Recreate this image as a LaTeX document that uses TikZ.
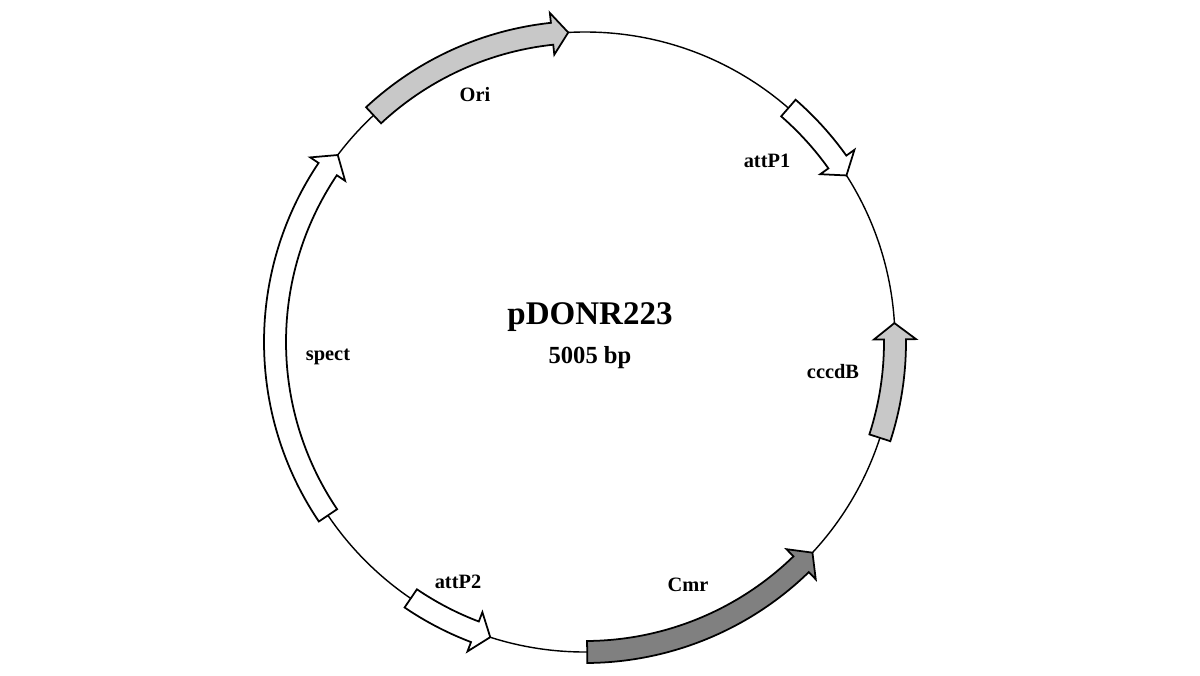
\documentclass[tikz,border=0pt]{standalone}
\usepackage{tikz}
\usepackage{fontspec}
\setmainfont{Liberation Serif}
\usetikzlibrary{}

\definecolor{lightgene}{RGB}{200,200,200}
\definecolor{darkgene}{RGB}{128,128,128}

\tikzset{
	gene/.style={draw=black,line width=1.25pt,line join=miter},
	genelabel/.style={font=\fontsize{14.5}{16}\selectfont\bfseries}
}

\begin{document}
\begin{tikzpicture}
		\useasboundingbox (-14.625,-8.325) rectangle (15.375,8.55);
		
		\draw[line width=1pt] (0,0) circle (7.75);
		
		\node (title) at (0.125,0.625){\fontsize{23.5}{26}\selectfont\bfseries pDONR223};
		\node (size) at (0.125,-0.4){\fontsize{17.5}{20}\selectfont\bfseries 5005 bp};
		
		% Ori
		\draw[gene,fill=lightgene] (133:8.025) arc[start angle=133,end angle=96.1,radius=8.025] -- (96.1:8.275) -- (93.1:7.75) -- (96.1:7.225) -- (96.1:7.475) arc[start angle=96.1,end angle=133,radius=7.475] -- cycle;
		\node[genelabel] (ori) at (-2.75,6.175){Ori};
		
		% attP1
		\draw[gene,fill=white] (49:8.025) arc[start angle=49,end angle=35.5,radius=8.025] -- (35.5:8.275) -- (32.5:7.75) -- (35.5:7.225) -- (35.5:7.475) arc[start angle=35.5,end angle=49,radius=7.475] -- cycle;
		\node[genelabel] (attpone) at (4.55,4.525){attP1};
		
		% cccdB
		\draw[gene,fill=lightgene] (-18:8.025) arc[start angle=-18,end angle=0.5,radius=8.025] -- (0.5:8.275) -- (3.5:7.75) -- (0.5:7.225) -- (0.5:7.475) arc[start angle=0.5,end angle=-18,radius=7.475] -- cycle;
		\node[genelabel] (cccdb) at (6.2,-0.75){cccdB};
		
		% Cmr
		\draw[gene,fill=darkgene] (-89.6:8.025) arc[start angle=-89.6,end angle=-45.8,radius=8.025] -- (-45.8:8.275) -- (-42.8:7.75) -- (-45.8:7.225) -- (-45.8:7.475) arc[start angle=-45.8,end angle=-89.6,radius=7.475] -- cycle;
		\node[genelabel] (cmr) at (2.575,-6.075){Cmr};
		
		% attP2
		\draw[gene,fill=white] (-124.2:8.025) arc[start angle=-124.2,end angle=-110.8,radius=8.025] -- (-110.8:8.275) -- (-107.8:7.75) -- (-110.8:7.225) -- (-110.8:7.475) arc[start angle=-110.8,end angle=-124.2,radius=7.475] -- cycle;
		\node[genelabel] (attptwo) at (-3.175,-6.0){attP2};
		
		% spect
		\draw[gene,fill=white] (214:8.025) arc[start angle=214,end angle=146.1,radius=8.025] -- (146.1:8.275) -- (142.9:7.75) -- (146.1:7.225) -- (146.1:7.475) arc[start angle=146.1,end angle=214,radius=7.475] -- cycle;
		\node[genelabel] (spect) at (-6.425,-0.375){spect};
	\end{tikzpicture}
\end{document}
